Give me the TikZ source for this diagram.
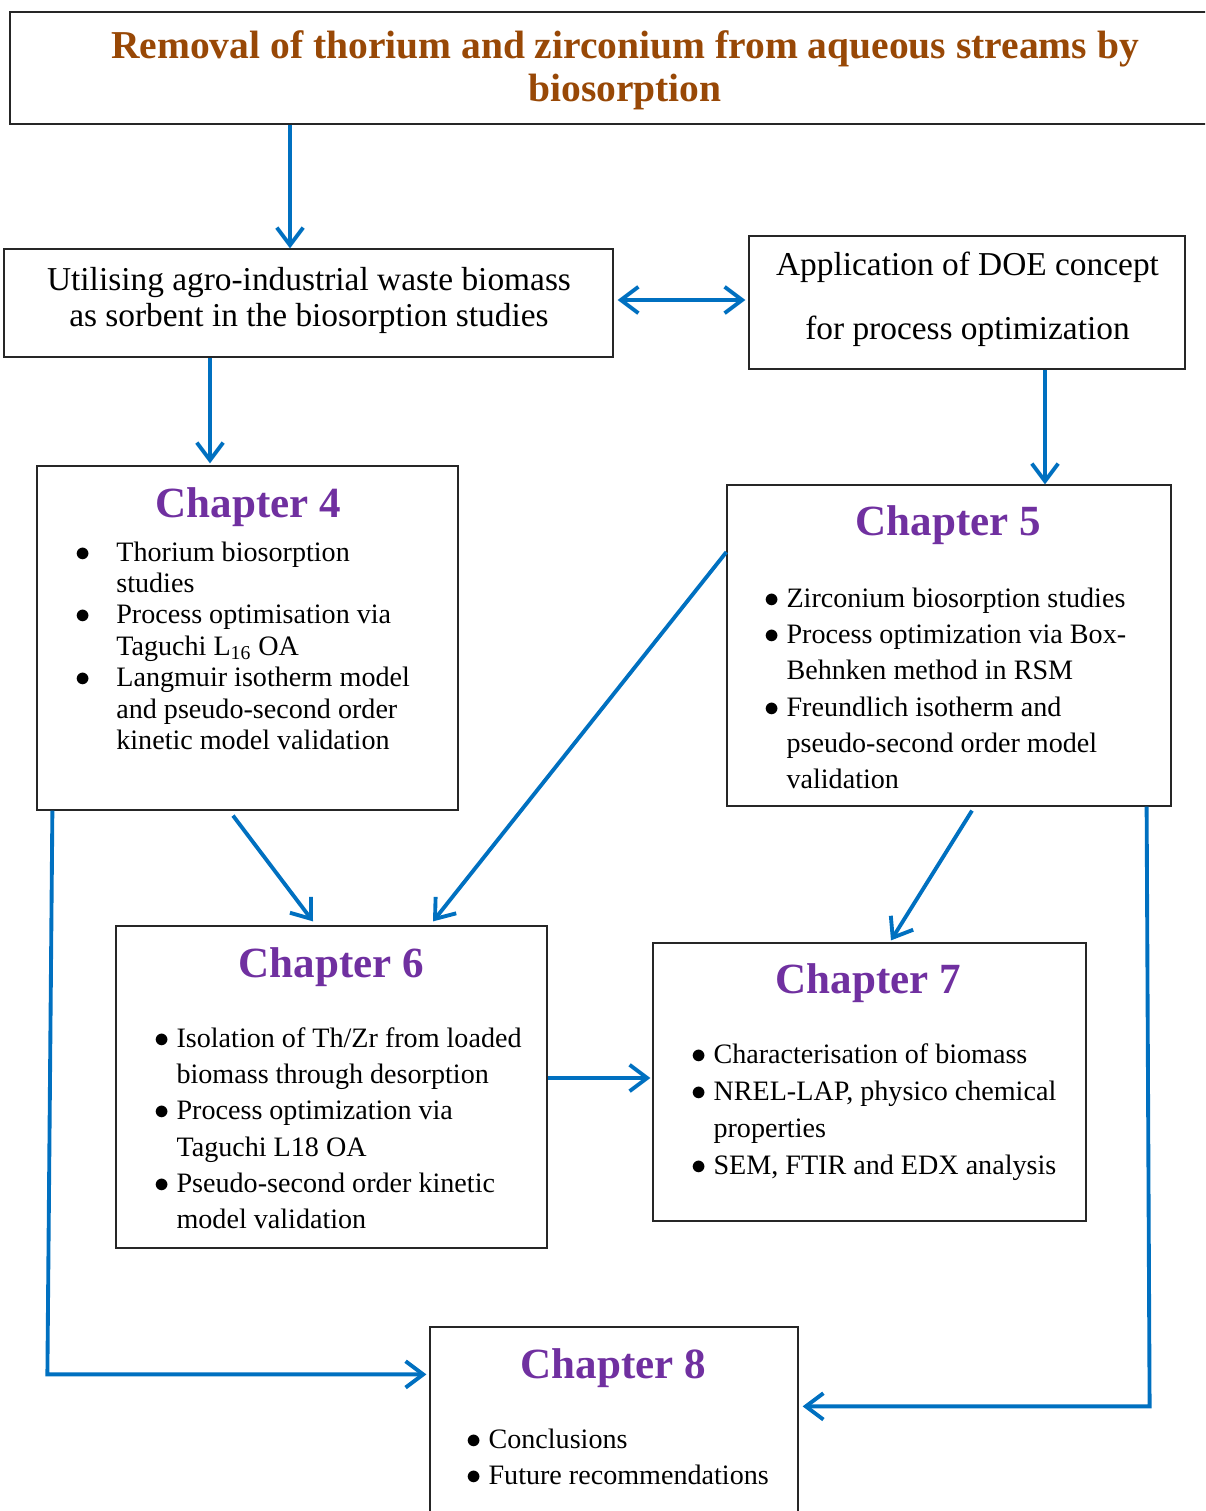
\documentclass[tikz,border=0pt]{standalone}
\usepackage{fontspec}
\setmainfont{Liberation Serif}
\usetikzlibrary{arrows.meta,calc,fit}
\definecolor{titlebrown}{RGB}{152,72,6}
\definecolor{chpurple}{RGB}{112,48,160}
\definecolor{flowblue}{RGB}{0,112,192}
\newcommand\bul{$\bullet$}
\begin{document}
\begin{tikzpicture}[x=0.02cm, y=-0.02cm,
  >={Straight Barb[length=10pt,width=15pt]},
  box/.style={draw=black!85, line width=0.7pt, inner sep=0pt},
  flow/.style={draw=flowblue, line width=2.2pt},
  head/.style={anchor=base, inner sep=0pt, text=chpurple, font=\bfseries\fontsize{24.5}{29}\selectfont},
  items/.style={anchor=base west, inner sep=0pt, font=\fontsize{16}{20.7}\selectfont},
  plain/.style={anchor=base, inner sep=0pt}]
  \useasboundingbox (0,0) rectangle (1205,1511);
  \clip (0,0) rectangle (1205,1511);

  \node[box, fit={(10,12) (1212,124)}] (title) {};
  \node[box, fit={(4,249) (613,357)}] (waste) {};
  \node[box, fit={(749,236) (1185,369)}] (doe) {};
  \node[box, fit={(37,466) (458,810)}] (ch4) {};
  \node[box, fit={(727,485) (1171,806)}] (ch5) {};
  \node[box, fit={(116,926) (547,1248)}] (ch6) {};
  \node[box, fit={(653,943) (1086,1221)}] (ch7) {};
  \node[box, fit={(430,1327) (798,1530)}] (ch8) {};

  \node[plain, text=titlebrown, font=\bfseries\fontsize{22.5}{25}\selectfont] (titletext) at (625,58)
    {\begin{tabular}[t]{@{}c@{}}Removal of thorium and zirconium from aqueous streams by\\ biosorption\end{tabular}};
  \node[plain, font=\fontsize{19}{21}\selectfont] (wastetext) at (309,290)
    {\begin{tabular}[t]{@{}c@{}}Utilising agro-industrial waste biomass\\ as sorbent in the biosorption studies\end{tabular}};
  \node[plain, font=\fontsize{19}{36.9}\selectfont] (doetext) at (967.5,275)
    {\begin{tabular}[t]{@{}c@{}}Application of DOE concept\\ for process optimization\end{tabular}};

  \node[head] (ch4head) at (248.5,517) {Chapter 4};
  \node[head] (ch5head) at (948.5,535) {Chapter 5};
  \node[head] (ch6head) at (331.5,977) {Chapter 6};
  \node[head] (ch7head) at (868.5,993) {Chapter 7};
  \node[head] (ch8head) at (613.5,1378) {Chapter 8};

  \node[items, font=\fontsize{16}{17.9}\selectfont] (ch4list) at (75,561)
    {\begin{tabular}[t]{@{}l@{\hspace{14.7pt}}l@{}}
      \bul & Thorium biosorption\\ & studies\\
      \bul & Process optimisation via\\ & Taguchi L\textsubscript{16} OA\\
      \bul & Langmuir isotherm model\\ & and pseudo-second order\\ & kinetic model validation
    \end{tabular}};
  \node[items] (ch5list) at (764,607)
    {\begin{tabular}[t]{@{}l@{\hspace{4pt}}l@{}}
      \bul & Zirconium biosorption studies\\
      \bul & Process optimization via Box-\\ & Behnken method in RSM\\
      \bul & Freundlich isotherm and\\ & pseudo-second order model\\ & validation
    \end{tabular}};
  \node[items] (ch6list) at (154,1047)
    {\begin{tabular}[t]{@{}l@{\hspace{4pt}}l@{}}
      \bul & Isolation of Th/Zr from loaded\\ & biomass through desorption\\
      \bul & Process optimization via\\ & Taguchi L18 OA\\
      \bul & Pseudo-second order kinetic\\ & model validation
    \end{tabular}};
  \node[items, font=\fontsize{16}{21.1}\selectfont] (ch7list) at (691,1063)
    {\begin{tabular}[t]{@{}l@{\hspace{4pt}}l@{}}
      \bul & Characterisation of biomass\\
      \bul & NREL-LAP, physico chemical\\ & properties\\
      \bul & SEM, FTIR and EDX analysis
    \end{tabular}};
  \node[items, font=\fontsize{16}{21}\selectfont] (ch8list) at (466,1448)
    {\begin{tabular}[t]{@{}l@{\hspace{4pt}}l@{}}
      \bul & Conclusions\\
      \bul & Future recommendations
    \end{tabular}};

  \draw[flow,->] ($(title.south)+(-321,0)$) -- ($(waste.north)+(-18.5,0)$);
  \draw[flow,<->] ($(waste.east)+(4,-3)$) -- ($(doe.west)+(-3,-2.5)$);
  \draw[flow,->] ($(waste.south)+(-98.5,0)$) -- ($(ch4.north)+(-37.5,-2)$);
  \draw[flow,->] ($(doe.south)+(78,0)$) -- ($(ch5.north)+(96,0)$);
  \draw[flow,->] ($(ch4.south)+(-14.5,5)$) -- ($(ch6.north)+(-18.5,-4)$);
  \draw[flow,->] ($(ch5.west)+(0,-93.5)$) -- ($(ch6.north)+(101.5,-4)$);
  \draw[flow,->] ($(ch5.south)+(23,4)$) -- ($(ch7.north)+(21.5,-2)$);
  \draw[flow,->] ($(ch6.east)+(0,-9)$) -- ($(ch7.west)+(-2,-4)$);
  \draw[flow,->] ($(ch4.south west)+(16,0)$) -- ($(ch8.north west)+(-382,48)$) -- ($(ch8.north west)+(-3,48)$);
  \draw[flow,->] ($(ch5.south east)+(-25,0)$) -- ($(ch8.north east)+(351,80)$) -- ($(ch8.north east)+(4,80)$);
\end{tikzpicture}
\end{document}
